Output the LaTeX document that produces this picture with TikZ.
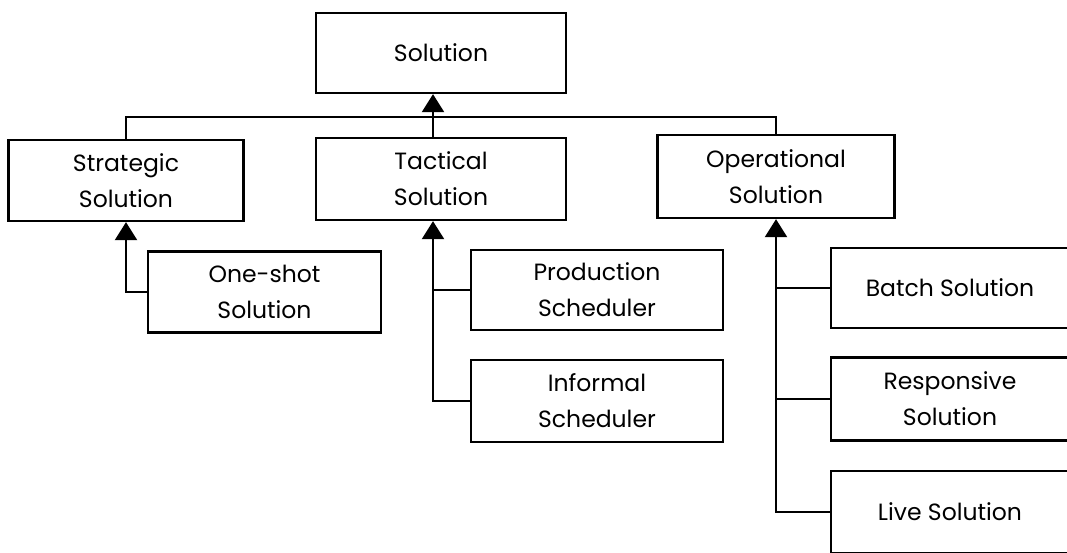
\documentclass[tikz,border=0pt]{standalone}
\usepackage{fontspec}
\setmainfont{Poppins}
\usetikzlibrary{arrows.meta}
\begin{document}
\begin{tikzpicture}[x=1pt,y=-1pt,
  box/.style={draw,line width=2.3pt,rectangle,align=center,inner sep=0pt,
    font=\fontsize{23.5}{36}\selectfont},
  link/.style={line width=2.3pt},
  uparrow/.style={link,-{Triangle[width=22pt,length=18pt]}}]
\useasboundingbox (0,0) rectangle (1067,552);
\clip (0,0) rectangle (1067,552);

% top level
\node[box,minimum width=250pt,minimum height=80pt] (sol) at (441,53) {Solution};

% second level
\node[box,minimum width=235pt,minimum height=81pt] (strat) at (126,180.5) {Strategic\\Solution};
\node[box,minimum width=250pt,minimum height=82pt] (tact) at (441,179) {Tactical\\Solution};
\node[box,minimum width=237pt,minimum height=83pt] (oper) at (776,176.5) {Operational\\Solution};

% leaves
\node[box,minimum width=233pt,minimum height=81pt] (oneshot) at (264.5,292) {One-shot\\Solution};
\node[box,minimum width=252pt,minimum height=80pt] (prod) at (597,290) {Production\\Scheduler};
\node[box,minimum width=252pt,minimum height=82pt] (inf) at (597,401) {Informal\\Scheduler};
\node[box,minimum width=238pt,minimum height=80pt] (batch) at (950,288) {Batch Solution};
\node[box,minimum width=238pt,minimum height=83pt] (resp) at (950,399) {Responsive\\Solution};
\node[box,minimum width=238pt,minimum height=82pt] (live) at (950,512) {Live Solution};

% trunk points
\coordinate (tacttop) at ([xshift=-8pt]tact.north);
\coordinate (tactbot) at ([xshift=-8pt]tact.south);
\coordinate (bus) at (0,117);

% bus joining the second level to the top box
\draw[link] (strat.north) -- (strat.north |- bus) -- (oper.north |- bus) -- (oper.north);
\draw[uparrow] (tacttop) -- (sol.south -| tacttop);

% strategic branch
\draw[uparrow] (oneshot.west) -| (strat.south);

% tactical branch
\draw[uparrow] (inf.west) -| (tactbot);
\draw[link] (prod.west) -- (prod.west -| tactbot);

% operational branch
\draw[uparrow] (live.west) -| (oper.south);
\draw[link] (batch.west) -- (batch.west -| oper.south);
\draw[link] (resp.west) -- (resp.west -| oper.south);
\end{tikzpicture}
\end{document}
